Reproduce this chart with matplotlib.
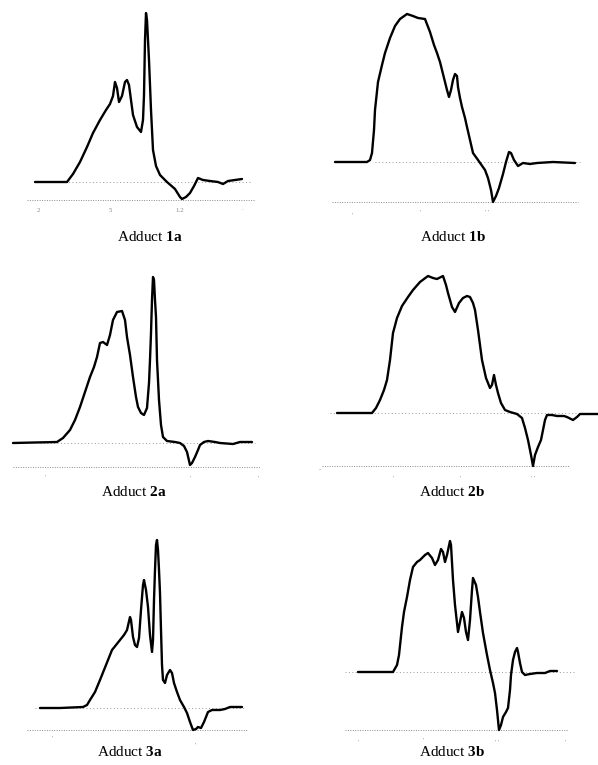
import numpy as np
import matplotlib
matplotlib.use("Agg")
import matplotlib.pyplot as plt

plt.rcParams['font.family'] = ['Liberation Serif', 'DejaVu Serif']
plt.rcParams['mathtext.fontset'] = 'custom'
plt.rcParams['mathtext.rm'] = 'Liberation Serif'
plt.rcParams['mathtext.bf'] = 'Liberation Serif:bold'

# spectra: field position (arb.) and signal (arb., baseline = 0)
x_1a = [35, 67, 73, 80, 87, 93, 100, 106, 110, 113, 115, 117, 119, 122, 125, 127, 129, 133, 137, 141,
        143, 144, 145, 146, 147, 149, 151, 153, 156, 160, 167, 175, 180, 182, 186, 190, 194, 198, 203, 210,
        218, 223, 228, 235, 242]
y_1a = [0, 0, 8, 20, 35, 49, 62, 72, 78, 86, 100, 94, 80, 86, 100, 102, 97, 67, 55, 50,
        62, 87, 142, 169, 162, 122, 72, 32, 16, 7, 0, -7, -15, -17, -15, -11, -4, 4, 2, 1,
        0, -2, 1, 2, 3]

x_1b = [335, 367, 370, 372, 374, 375, 378, 382, 385, 390, 395, 400, 407, 413, 418, 425, 430, 434, 437, 440,
        444, 447, 449, 451, 453, 455, 457, 458, 460, 462, 465, 467, 470, 473, 478, 485, 488, 491, 493, 496,
        499, 503, 506, 509, 511, 514, 518, 523, 530, 537, 553, 575]
y_1b = [0, 0, 2, 9, 32, 52, 80, 97, 109, 124, 136, 143, 148, 146, 144, 143, 130, 117, 109, 100,
        84, 72, 65, 72, 82, 88, 86, 75, 64, 55, 44, 35, 22, 9, 2, -8, -16, -28, -40, -34,
        -26, -12, 0, 10, 9, 2, -4, -1, -2, -1, 0, -1]

x_2a = [13, 57, 63, 70, 75, 80, 85, 90, 94, 97, 100, 103, 107, 110, 113, 117, 122, 125, 127, 130,
        133, 136, 138, 141, 144, 147, 149, 150, 151, 152, 153, 154, 155, 156, 157, 159, 161, 163, 167, 175,
        180, 184, 187, 190, 192, 195, 198, 200, 204, 208, 215, 220, 233, 240, 252]
y_2a = [0, 1, 5, 13, 23, 36, 51, 66, 76, 86, 100, 101, 98, 108, 123, 131, 132, 123, 106, 88,
        66, 46, 36, 30, 28, 35, 60, 83, 110, 143, 166, 163, 143, 126, 83, 43, 18, 6, 2, 1,
        0, -3, -9, -22, -20, -14, -7, -2, 1, 2, 1, 0, -1, 1, 1]

x_2b = [337, 372, 376, 380, 384, 387, 390, 393, 397, 402, 408, 413, 420, 428, 433, 437, 443, 446, 448, 452,
        455, 459, 463, 467, 470, 473, 475, 478, 482, 486, 490, 492, 494, 496, 498, 501, 505, 510, 517, 522,
        525, 528, 531, 533, 535, 538, 541, 543, 545, 547, 552, 557, 564, 567, 573, 577, 580, 598]
y_2b = [0, 0, 5, 13, 23, 33, 53, 80, 95, 107, 116, 123, 131, 137, 135, 134, 137, 128, 120, 106,
        101, 110, 115, 117, 116, 110, 103, 83, 53, 35, 25, 28, 38, 28, 20, 10, 3, 1, -1, -5,
        -15, -27, -42, -53, -42, -34, -27, -17, -7, -2, -2, -3, -3, -4, -7, -4, -1, -1]

x_3a = [40, 60, 83, 87, 90, 95, 100, 106, 112, 116, 120, 124, 127, 130, 131, 133, 135, 137, 139, 141,
        143, 144, 146, 148, 150, 152, 153, 154, 155, 156, 157, 158, 159, 160, 161, 162, 163, 165, 167, 170,
        172, 174, 177, 180, 184, 187, 190, 193, 196, 198, 201, 204, 208, 212, 220, 225, 230, 242]
y_3a = [0, 0, 1, 3, 8, 16, 28, 43, 58, 63, 68, 73, 78, 91, 88, 71, 63, 61, 70, 98,
        123, 128, 118, 101, 73, 56, 68, 108, 138, 163, 168, 158, 138, 115, 78, 43, 28, 25, 33, 38,
        35, 25, 16, 8, 1, -5, -14, -22, -21, -19, -20, -14, -4, -2, -2, -1, 1, 1]

x_3b = [358, 385, 393, 397, 399, 402, 404, 407, 410, 413, 417, 420, 425, 428, 432, 435, 438, 441, 443, 445,
        447, 450, 451, 453, 455, 458, 460, 462, 464, 466, 468, 470, 472, 473, 476, 478, 480, 483, 487, 490,
        493, 495, 497, 499, 501, 503, 506, 508, 510, 511, 513, 515, 517, 518, 520, 522, 525, 530, 537, 545,
        550, 557]
y_3b = [0, 0, 0, 7, 17, 45, 60, 75, 92, 105, 110, 112, 117, 119, 114, 107, 112, 123, 120, 110,
        117, 131, 127, 92, 67, 40, 50, 60, 54, 40, 32, 52, 82, 94, 87, 75, 60, 39, 17, 2,
        -11, -21, -38, -58, -53, -45, -40, -36, -18, -3, 12, 20, 24, 20, 9, 0, -3, -2, -1, -1,
        1, 1]

names = ["1a", "1b", "2a", "2b", "3a", "3b"]
xs = [x_1a, x_1b, x_2a, x_2b, x_3a, x_3b]
ys = [y_1a, y_1b, y_2a, y_2b, y_3a, y_3b]

# layout (pixels): axes box, baseline row, lower dotted line level & extent, label centre
W, H = 598, 765
boxes = [(0, 300, 0, 215), (300, 598, 0, 215),
         (0, 300, 250, 475), (300, 598, 250, 475),
         (0, 300, 505, 740), (300, 598, 505, 740)]
bases = [182, 162, 443, 413, 708, 672]
lows = [-18, -40, -24, -53, -22, -58]
low_span = [(27, 255), (332, 578), (13, 260), (322, 570), (27, 247), (345, 568)]
base_span = [(55, 250), (375, 580), (40, 255), (330, 598), (35, 245), (345, 575)]
label_pos = [(150, 237), (453, 237), (134, 492), (452, 492), (130, 752), (452, 752)]
tick_marks = [[(38, 210, "2"), (110, 210, "5"), (180, 210, "1.2"), (242, 208, ".")],
              [(352, 215, "'"), (420, 212, "'"), (487, 213, "' '")],
              [(45, 477, "'"), (190, 478, "'"), (258, 478, "'")],
              [(320, 470, "-"), (393, 478, "'"), (460, 478, "'"), (533, 478, "' '")],
              [(52, 738, "'"), (195, 745, "'")],
              [(358, 742, "'"), (423, 740, "'"), (497, 742, "' '"), (565, 742, "'")]]

fig = plt.figure(figsize=(W / 100, H / 100), dpi=100)

for i in range(6):
    l, r, t, b = boxes[i]
    base = bases[i]
    ax = fig.add_axes([l / W, 1 - b / H, (r - l) / W, (b - t) / H])
    ax.set_xlim(l, r)
    ax.set_ylim(base - b, base - t)
    ax.axis("off")

    # faint dotted guide lines like the scanned recorder paper
    ax.plot(base_span[i], [0, 0], ls=(0, (1, 2.5)), color="#9a9a9a", lw=0.7)
    ax.plot(low_span[i], [lows[i], lows[i]], ls=(0, (1, 1.5)), color="#8a8a8a", lw=0.7)

    ax.plot(xs[i], ys[i], color="black", lw=1.7, solid_joinstyle="round", solid_capstyle="round")

    for tx, ty, s in tick_marks[i]:
        ax.text(tx, base - ty, s, fontsize=5, color="#8a8a8a", ha="center", va="center")

    lx, ly = label_pos[i]
    fig.text(lx / W, 1 - ly / H, "Adduct $\\mathbf{" + names[i] + "}$",
             fontsize=11, ha="center", va="center")

fig.savefig("out.png", dpi=100, facecolor="white")
